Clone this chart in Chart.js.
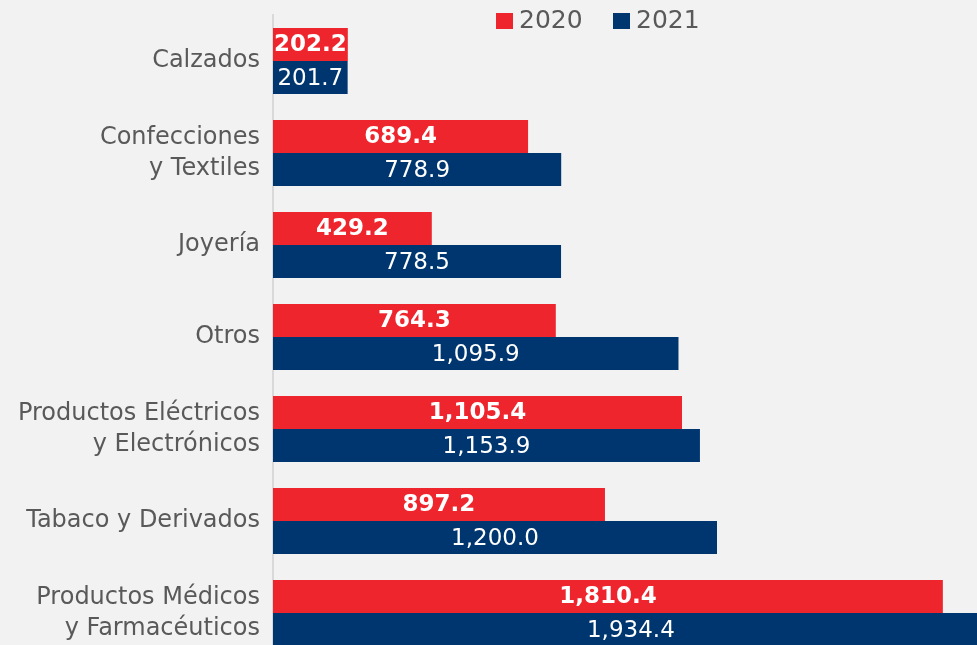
<!DOCTYPE html>
<html>
<head>
<meta charset="utf-8">
<script src="https://cdn.jsdelivr.net/npm/chart.js@4"></script>
<style>
  html, body { margin: 0; padding: 0; background: #f2f2f2; overflow: hidden; }
  #wrap { width: 977px; height: 645px; overflow: hidden; }
</style>
</head>
<body>
<div id="wrap"><canvas id="box" width="1013" height="659"></canvas></div>
<script>
var categories = [
  "Calzados",
  ["Confecciones", "y Textiles"],
  "Joyería",
  "Otros",
  ["Productos Eléctricos", "y Electrónicos"],
  "Tabaco y Derivados",
  ["Productos Médicos", "y Farmacéuticos"]
];
var values2020 = [202.2, 689.4, 429.2, 764.3, 1105.4, 897.2, 1810.4];
var values2021 = [201.7, 778.9, 778.5, 1095.9, 1153.9, 1200.0, 1934.4];

var red = '#ee252d';
var navy = '#00366f';
var fontName = "'DejaVu Sans', sans-serif";

function fmt(v) {
  return v.toLocaleString('en-US', { minimumFractionDigits: 1, maximumFractionDigits: 1 });
}

// values written inside the bars
var barLabels = {
  id: 'barLabels',
  afterDatasetsDraw: function (chart) {
    var ctx = chart.ctx;
    ctx.save();
    ctx.fillStyle = '#ffffff';
    ctx.textAlign = 'center';
    ctx.textBaseline = 'middle';
    chart.data.datasets.forEach(function (ds, i) {
      ctx.font = (i === 0 ? 'bold 23px ' : '23px ') + fontName;
      chart.getDatasetMeta(i).data.forEach(function (bar, j) {
        var x = (bar.x + bar.base) / 2;
        ctx.fillText(fmt(ds.data[j]), x, bar.y + 1);
      });
    });
    ctx.restore();
  }
};

// legend drawn over the top of the plot
var topLegend = {
  id: 'topLegend',
  afterDraw: function (chart) {
    var ctx = chart.ctx;
    var pos = [496, 613];
    ctx.save();
    ctx.font = '25px ' + fontName;
    ctx.textBaseline = 'middle';
    ctx.textAlign = 'left';
    chart.data.datasets.forEach(function (ds, i) {
      ctx.fillStyle = ds.backgroundColor;
      ctx.fillRect(pos[i], 13, 17, 16);
      ctx.fillStyle = '#595959';
      ctx.fillText(ds.label, pos[i] + 23, 21);
    });
    ctx.restore();
  }
};

var mychart = new Chart("box", {
  type: "bar",
  data: {
    labels: categories,
    datasets: [
      { label: '2020', data: values2020, backgroundColor: red },
      { label: '2021', data: values2021, backgroundColor: navy }
    ]
  },
  options: {
    indexAxis: 'y',
    responsive: false,
    animation: false,
    categoryPercentage: 0.72,
    barPercentage: 1,
    layout: { padding: { top: 15, right: 0, bottom: 0, left: 0 } },
    plugins: {
      legend: { display: false },
      tooltip: { enabled: false }
    },
    scales: {
      x: { display: false, min: 0, max: 2000 },
      y: {
        grid: { display: false, drawTicks: false },
        border: { color: '#d9d9d9', width: 2 },
        ticks: {
          color: '#595959',
          padding: 13,
          font: { family: fontName, size: 24, lineHeight: 1.3 },
          autoSkip: false
        },
        afterFit: function (scale) {
          scale.width = 273;
          scale.paddingTop = 0;
          scale.paddingBottom = 0;
        }
      }
    }
  },
  plugins: [barLabels, topLegend]
});
</script>
</body>
</html>
